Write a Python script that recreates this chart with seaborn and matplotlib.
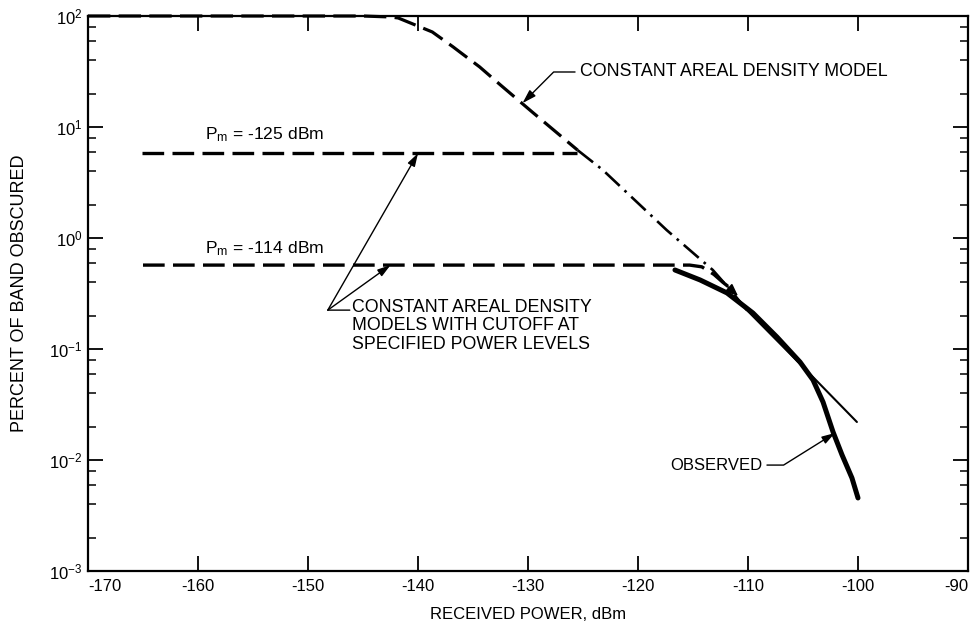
import matplotlib
matplotlib.use("Agg")
import matplotlib.pyplot as plt
import seaborn as sns
import pandas as pd
import numpy as np
from matplotlib.ticker import FixedLocator, LogLocator, FuncFormatter, NullFormatter

# ---------------- data ----------------
model_x = [-170.0, -145.0, -142.5, -141.8, -139.8, -138.7, -136.8, -136.2, -134.4, -132.5,
           -129.6, -125.5, -123.2, -117.4, -113.2, -111.6, -110.1, -104.1, -100.1]
model_y = [100, 100, 98, 96, 79.6, 71.8, 52.6, 47.4, 34.8, 23.9,
           13.6, 6.2, 4.1, 1.18, 0.515, 0.34, 0.224, 0.056, 0.022]

cut125_x = [-165.1, -125.5]
cut125_y = [5.8, 5.8]

cut114_x = [-165.0, -115.3, -114.2, -113.1, -112.3, -111.4]
cut114_y = [0.57, 0.57, 0.55, 0.47, 0.40, 0.34]

obs_x = [-116.64, -114.36, -111.91, -109.55, -107.36, -105.27, -104.09, -103.18,
         -102.27, -101.45, -100.55, -100.0]
obs_y = [0.515, 0.419, 0.320, 0.211, 0.128, 0.0763, 0.0526, 0.0333,
         0.0179, 0.0111, 0.00689, 0.00455]

x_ticks = [-170, -160, -150, -140, -130, -120, -110, -100, -90]
x_tick_labels = ["-170", "-160", "-150", "-140", "-130", "-120", "-110", "-100", "-90"]
y_decades = [1e-3, 1e-2, 1e-1, 1e0, 1e1, 1e2]

# ---------------- style ----------------
sns.set_theme(style="ticks")
plt.rcParams["font.family"] = ["Liberation Sans", "DejaVu Sans"]
plt.rcParams["mathtext.fontset"] = "custom"
plt.rcParams["mathtext.rm"] = "Liberation Sans"
plt.rcParams["mathtext.it"] = "Liberation Sans:italic"
plt.rcParams["mathtext.bf"] = "Liberation Sans:bold"
plt.rcParams["axes.unicode_minus"] = False
plt.rcParams["text.color"] = "black"
plt.rcParams["axes.labelcolor"] = "black"
plt.rcParams["xtick.color"] = "black"
plt.rcParams["ytick.color"] = "black"

FS = 12
FS_ANN = 12.8

fig = plt.figure(figsize=(9.78, 6.27), dpi=100)
ax = fig.add_axes([88 / 978, 1 - 571 / 627, 880 / 978, 555 / 627])
ax.set_yscale("log")

df_model = pd.DataFrame({"x": model_x, "y": model_y})
seg1 = df_model.iloc[0:12]
seg2 = df_model.iloc[11:17]
seg3 = df_model.iloc[16:19]

# constant areal density model: dashed, then dash-dot, then thin solid
sns.lineplot(data=seg1, x="x", y="y", ax=ax, color="black", lw=2.3,
             linestyle=(0, (7, 2.6)), estimator=None, sort=False, clip_on=False)
sns.lineplot(data=seg2, x="x", y="y", ax=ax, color="black", lw=1.9,
             linestyle=(0, (7.5, 2.5, 1.0, 2.5)), estimator=None, sort=False)
sns.lineplot(data=seg3, x="x", y="y", ax=ax, color="black", lw=1.5,
             estimator=None, sort=False)

# cutoff models
sns.lineplot(data=pd.DataFrame({"x": cut125_x, "y": cut125_y}), x="x", y="y", ax=ax,
             color="black", lw=2.4, linestyle=(0, (6.5, 2.5)), estimator=None, sort=False)
sns.lineplot(data=pd.DataFrame({"x": cut114_x, "y": cut114_y}), x="x", y="y", ax=ax,
             color="black", lw=2.4, linestyle=(0, (6.5, 2.5)), estimator=None, sort=False)

# observed
sns.lineplot(data=pd.DataFrame({"x": obs_x, "y": obs_y}), x="x", y="y", ax=ax,
             color="black", lw=3.6, estimator=None, sort=False,
             solid_capstyle="round", solid_joinstyle="round")

# ---------------- axes ----------------
ax.set_xlim(-170, -90)
ax.set_ylim(1e-3, 1e2)
ax.xaxis.set_major_locator(FixedLocator(x_ticks))
ax.set_xticklabels(x_tick_labels)
xl = ax.get_xticklabels()
xl[0].set_ha("left")
xl[-1].set_ha("right")
ax.yaxis.set_major_locator(FixedLocator(y_decades))
ax.yaxis.set_minor_locator(LogLocator(base=10, subs=(2, 4, 6, 8)))
ax.yaxis.set_major_formatter(FuncFormatter(lambda v, p: r"$\mathregular{10^{%d}}$" % round(np.log10(v))))
ax.yaxis.set_minor_formatter(NullFormatter())

ax.tick_params(axis="x", which="major", direction="in", length=10.5, width=1.3,
               top=True, bottom=True, labelsize=FS, pad=6)
ax.tick_params(axis="y", which="major", direction="in", length=10.5, width=1.3,
               left=True, right=True, labelsize=FS, pad=4)
ax.tick_params(axis="y", which="minor", direction="in", length=5.5, width=1.1,
               left=True, right=True)
ax.tick_params(axis="x", which="minor", bottom=False, top=False)

for s in ax.spines.values():
    s.set_linewidth(1.6)
    s.set_color("black")
    s.set_visible(True)

ax.set_xlabel("RECEIVED POWER, dBm", fontsize=FS, labelpad=9)
ax.set_ylabel("PERCENT OF BAND OBSCURED", fontsize=13)
ax.yaxis.set_label_coords(-0.068, 0.5)

# ---------------- annotations ----------------
arrow_kw = dict(arrowstyle="-|>,head_length=0.65,head_width=0.2", color="black", lw=1.0)

ax.annotate("CONSTANT AREAL DENSITY MODEL", xy=(-130.5, 16.4), xytext=(-125.3, 31.3),
            ha="left", va="center", fontsize=FS_ANN,
            arrowprops=dict(**arrow_kw, connectionstyle="angle,angleA=0,angleB=45,rad=0",
                            relpos=(0, 0.5), shrinkA=1, shrinkB=0))

ax.annotate("OBSERVED", xy=(-102.1, 0.0175), xytext=(-108.7, 0.0090),
            ha="right", va="center", fontsize=FS,
            arrowprops=dict(**arrow_kw, connectionstyle="angle,angleA=0,angleB=32,rad=0",
                            relpos=(1, 0.5), shrinkA=1, shrinkB=0))

ax.text(-146.0, 0.285, "CONSTANT AREAL DENSITY\nMODELS WITH CUTOFF AT\nSPECIFIED POWER LEVELS",
        ha="left", va="top", fontsize=FS_ANN, linespacing=1.15)
src = (-148.2, 0.224)
ax.annotate("", xy=(-146.2, 0.224), xytext=src,
            arrowprops=dict(arrowstyle="-", color="black", lw=1.0, shrinkA=0, shrinkB=0))
ax.annotate("", xy=(-140.0, 5.8), xytext=src,
            arrowprops=dict(**arrow_kw, shrinkA=0, shrinkB=0))
ax.annotate("", xy=(-142.5, 0.57), xytext=src,
            arrowprops=dict(**arrow_kw, shrinkA=0, shrinkB=0))

# small arrowhead where the -114 dBm cutoff curve joins the model
ax.annotate("", xy=(-110.9, 0.30), xytext=(-112.3, 0.40),
            arrowprops=dict(arrowstyle="-|>,head_length=0.6,head_width=0.25",
                            color="black", lw=1.2, shrinkA=0, shrinkB=0))

ax.text(-153.9, 8.5, r"P$_{\mathregular{m}}$ = -125 dBm", ha="center", va="center", fontsize=12.6)
ax.text(-153.9, 0.81, r"P$_{\mathregular{m}}$ = -114 dBm", ha="center", va="center", fontsize=12.6)

fig.savefig("out.png", dpi=100, facecolor="white")
